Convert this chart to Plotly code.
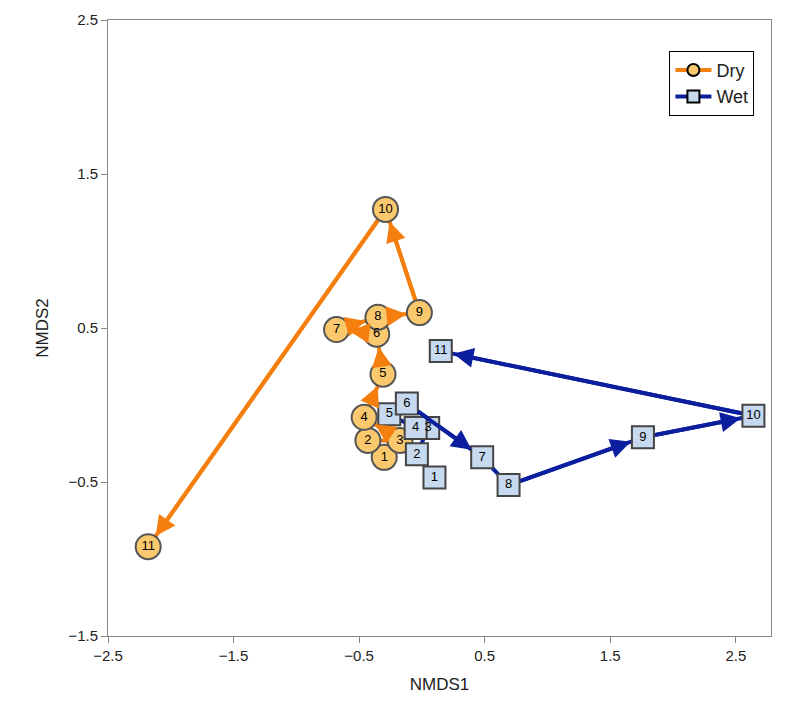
import math
import plotly.graph_objects as go

labels = [str(i) for i in range(1, 12)]
dry_x = [-0.30, -0.43, -0.175, -0.46, -0.31, -0.36, -0.68, -0.35, -0.02, -0.29, -2.18]
dry_y = [-0.34, -0.23, -0.23, -0.08, 0.20, 0.46, 0.49, 0.57, 0.60, 1.27, -0.92]
wet_x = [0.10, -0.04, 0.05, -0.05, -0.26, -0.12, 0.48, 0.69, 1.76, 2.64, 0.15]
wet_y = [-0.47, -0.32, -0.15, -0.15, -0.06, 0.01, -0.34, -0.52, -0.21, -0.07, 0.35]

ORANGE = "#F57F0E"
BLUE = "#0A1E9E"
XPX, YPX = 125.6, 154.0
fig = go.Figure()
ann = []
for xs, ys, col in [(dry_x, dry_y, ORANGE), (wet_x, wet_y, BLUE)]:
    fig.add_trace(go.Scatter(x=xs, y=ys, mode="lines", line=dict(color=col, width=4),
                             showlegend=False, hoverinfo="skip"))
    for i in range(len(xs) - 1):
        d = math.hypot((xs[i+1]-xs[i])*XPX, (ys[i+1]-ys[i])*YPX)
        if d < 40:
            continue
        ann.append(dict(x=xs[i+1], y=ys[i+1], ax=xs[i], ay=ys[i], xref="x", yref="y",
                        axref="x", ayref="y", showarrow=True, arrowhead=2, arrowsize=1.0,
                        arrowwidth=4, arrowcolor=col, standoff=13, startstandoff=12, text=""))

fig.add_trace(go.Scatter(x=dry_x, y=dry_y, mode="markers+text", showlegend=False, text=labels,
    textfont=dict(size=13, color="black", family="Liberation Sans"),
    marker=dict(symbol="circle", size=25, color="#FAC96E", line=dict(color="#555", width=2))))
fig.add_trace(go.Scatter(x=wet_x, y=wet_y, mode="markers+text", showlegend=False, text=labels,
    textfont=dict(size=13, color="black", family="Liberation Sans"),
    marker=dict(symbol="square", size=22, color="#C6D9EF", line=dict(color="#444", width=2))))
fig.add_trace(go.Scatter(x=[None], y=[None], mode="lines+markers", name="Dry",
    line=dict(color=ORANGE, width=4),
    marker=dict(symbol="circle", size=12, color="#FAC96E", line=dict(color="black", width=2))))
fig.add_trace(go.Scatter(x=[None], y=[None], mode="lines+markers", name="Wet",
    line=dict(color=BLUE, width=4),
    marker=dict(symbol="square", size=12, color="#C6D9EF", line=dict(color="black", width=2))))

fig.update_layout(
    width=785, height=708, margin=dict(l=100, r=22, t=12, b=80),
    plot_bgcolor="white", paper_bgcolor="white", annotations=ann,
    font=dict(family="Liberation Sans", size=15, color="#222"),
    legend=dict(x=0.975, y=0.95, xanchor="right", yanchor="top", bordercolor="black",
                borderwidth=1, font=dict(size=18), itemwidth=36, tracegroupgap=14),
    xaxis=dict(range=[-2.5, 2.78], tick0=-2.5, dtick=1, showgrid=False, zeroline=False,
               showline=True, linecolor="#888", mirror=True, ticks="outside", ticklen=6,
               tickcolor="#888", automargin=False, title=dict(text="NMDS1", font=dict(size=17))),
    yaxis=dict(range=[-1.5, 2.5], tick0=-1.5, dtick=1, showgrid=False, zeroline=False,
               showline=True, linecolor="#888", mirror=True, ticks="outside", ticklen=6,
               tickcolor="#888", automargin=False, title=dict(text="NMDS2", font=dict(size=17))),
)
fig.write_html("out.html")
